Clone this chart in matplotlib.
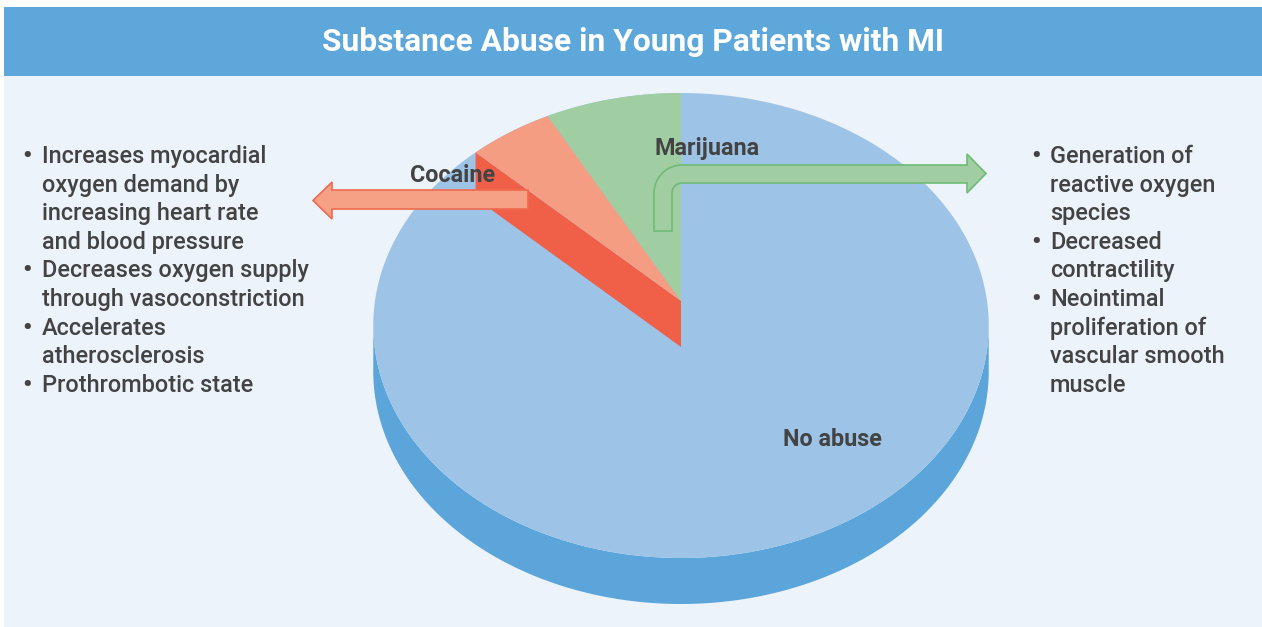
import numpy as np
import matplotlib
matplotlib.use("Agg")
import matplotlib.pyplot as plt
from matplotlib.patches import Polygon, Rectangle

# ---- data ----
categories = ["Marijuana", "Cocaine", "No abuse"]
shares = [7.9, 4.9, 87.2]          # percent of young MI patients
title = "Substance Abuse in Young Patients with MI"
cocaine_effects = ["Increases myocardial", "oxygen demand by", "increasing heart rate",
                   "and blood pressure", "Decreases oxygen supply", "through vasoconstriction",
                   "Accelerates", "atherosclerosis", "Prothrombotic state"]
cocaine_bullets = [True, False, False, False, True, False, True, False, True]
marijuana_effects = ["Generation of", "reactive oxygen", "species", "Decreased",
                     "contractility", "Neointimal", "proliferation of",
                     "vascular smooth", "muscle"]
marijuana_bullets = [True, False, False, True, False, True, False, False, False]

# ---- style ----
W, H = 1262, 627
BG = "#ECF3FB"
HEADER = "#5DA7DB"
TOP_BLUE = "#9DC3E6"
SIDE_BLUE = "#5BA5DA"
GREEN = "#A0CDA2"
SALMON = "#F59D82"
RED = "#F06048"
TXT = "#434343"
FONT = "Roboto"

fig = plt.figure(figsize=(W / 100, H / 100), dpi=100)
ax = fig.add_axes([0, 0, 1, 1])
ax.set_xlim(0, W)
ax.set_ylim(H, 0)
ax.axis("off")
fig.patch.set_facecolor("white")

ax.add_patch(Rectangle((4, 7), W - 4, H - 7, facecolor=BG, edgecolor="none", zorder=0))
ax.add_patch(Rectangle((4, 7), W - 4, 69, facecolor=HEADER, edgecolor="none", zorder=1))

# ---- 3D pie geometry (perspective ellipse) ----
cx, cy, A, B, k = 681, 301, 306, 229.9, 0.1054
depth = 46


def proj(theta_deg, drop=0.0):
    t = np.radians(theta_deg)
    u, v = np.cos(t), np.sin(t)
    w = 1 + k * v
    return np.column_stack([cx + A * u / w, cy - B * v / w + drop])


full = np.linspace(0, 360, 721)
pts = proj(full)
iL = np.argmin(pts[:, 0]); iR = np.argmax(pts[:, 0])
thL, thR = full[iL], full[iR]
arc = np.linspace(thL, thR, 400)
side = np.vstack([proj(arc, depth), proj(arc[::-1])])
ax.add_patch(Polygon(side, closed=True, facecolor=SIDE_BLUE, edgecolor="none", zorder=2))
ax.add_patch(Polygon(pts, closed=True, facecolor=TOP_BLUE, edgecolor="none", zorder=3))

angles = 90 + 360 * np.cumsum([0] + shares) / sum(shares)
m0, m1 = angles[0], angles[1]
c0, c1 = angles[1], angles[2]
apex = np.array([[cx, cy]])

# cocaine side wall
wall = np.vstack([apex, proj([c1]), proj([c1], depth), apex + [0, depth]])
ax.add_patch(Polygon(wall, closed=True, facecolor=RED, edgecolor="none", zorder=4))
# cocaine top
ax.add_patch(Polygon(np.vstack([apex, proj(np.linspace(c0, c1, 60))]), closed=True,
                     facecolor=SALMON, edgecolor="none", zorder=5))
# marijuana top
ax.add_patch(Polygon(np.vstack([apex, proj(np.linspace(m0, m1, 80))]), closed=True,
                     facecolor=GREEN, edgecolor="none", zorder=5))

# ---- arrows ----
coc_arrow = [(528, 190), (332, 190), (332, 182), (313, 200.5), (332, 219), (332, 209), (528, 209)]
ax.add_patch(Polygon(coc_arrow, closed=True, facecolor="#F6A085", edgecolor="#EF6A4F",
                     linewidth=1.2, zorder=7))


def corner(cxx, cyy, r, a0, a1, n=20):
    a = np.radians(np.linspace(a0, a1, n))
    return np.column_stack([cxx + r * np.cos(a), cyy - r * np.sin(a)])


x0, x1 = 654, 672
ytop, ybot = 165, 183
Ro, Ri = 28, 10
bent = [(x0, 231), (x0, ytop + Ro)]
bent += list(map(tuple, corner(x0 + Ro, ytop + Ro, Ro, 180, 90)))
bent += [(967, ytop), (967, 154), (986, 173.5), (967, 193), (967, ybot)]
bent += list(map(tuple, corner(x1 + Ri, ybot + Ri, Ri, 90, 180)))
bent += [(x1, 231)]
ax.add_patch(Polygon(bent, closed=True, facecolor=GREEN, edgecolor="#6FBA76",
                     linewidth=1.2, zorder=7))

# ---- text ----
ax.text(633, 51, title, color="white", fontsize=22.9, fontweight="bold",
        family=FONT, ha="center", va="baseline", zorder=10)

LS = 16.8
ax.text(453, 182, categories[1], color=TXT, fontsize=LS, fontweight="bold",
        family=FONT, ha="center", va="baseline", zorder=10)
ax.text(707, 155, categories[0], color=TXT, fontsize=LS, fontweight="bold",
        family=FONT, ha="center", va="baseline", zorder=10)
ax.text(832, 446, categories[2], color=TXT, fontsize=LS, fontweight="bold",
        family=FONT, ha="center", va="baseline", zorder=10)

LH = 28.6
FS = 16.9
for i, (line, b) in enumerate(zip(cocaine_effects, cocaine_bullets)):
    y = 163 + i * LH
    if b:
        ax.text(27, y, "\u2022", color=TXT, fontsize=19, fontweight="bold", family=FONT,
                ha="center", va="baseline", zorder=10)
    ax.text(42, y, line, color=TXT, fontsize=FS, fontweight="medium", family=FONT,
            ha="left", va="baseline", zorder=10)

for i, (line, b) in enumerate(zip(marijuana_effects, marijuana_bullets)):
    y = 163 + i * LH
    if b:
        ax.text(1036, y, "\u2022", color=TXT, fontsize=19, fontweight="bold", family=FONT,
                ha="center", va="baseline", zorder=10)
    ax.text(1050, y, line, color=TXT, fontsize=FS, fontweight="medium", family=FONT,
            ha="left", va="baseline", zorder=10)

fig.savefig("out.png", dpi=100, facecolor="white")
